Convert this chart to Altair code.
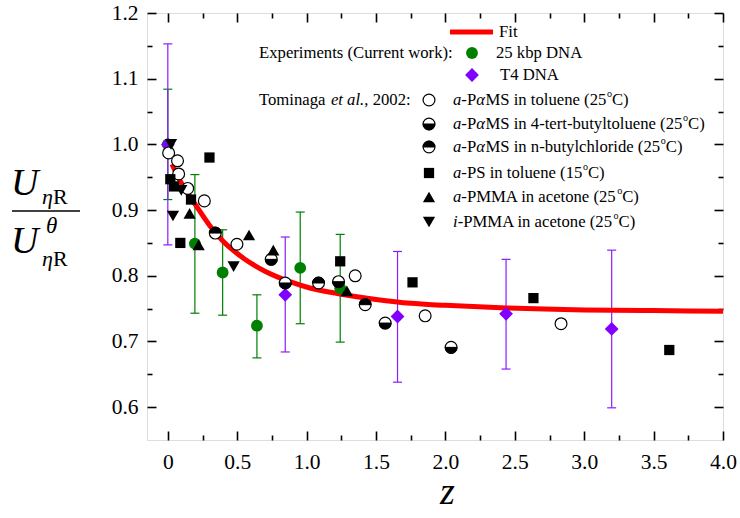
import altair as alt
import pandas as pd

# ------------------------------------------------------------------ data
dna25_z = [0.0, 0.195, 0.395, 0.642, 0.954, 1.242]
dna25_u = [1.0, 0.849, 0.805, 0.724, 0.812, 0.781]
dna25_lo = [0.916, 0.743, 0.740, 0.675, 0.727, 0.699]
dna25_hi = [1.084, 0.954, 0.870, 0.771, 0.897, 0.863]

t4_z = [0.0, 0.846, 1.655, 2.437, 3.198]
t4_u = [1.0, 0.771, 0.738, 0.742, 0.719]
t4_lo = [0.847, 0.684, 0.638, 0.658, 0.599]
t4_hi = [1.153, 0.859, 0.837, 0.825, 0.839]

pams_tol_z = [0.006, 0.07, 0.078, 0.143, 0.263, 0.498, 1.35, 1.854, 2.833]
pams_tol_u = [0.987, 0.975, 0.955, 0.933, 0.914, 0.848, 0.80, 0.739, 0.727]

pams_tbt_z = [0.745, 0.846, 1.23, 1.566, 2.041]
pams_tbt_u = [0.825, 0.789, 0.791, 0.728, 0.691]

pams_nbc_z = [0.342, 1.086, 1.422]
pams_nbc_u = [0.865, 0.789, 0.756]

ps_z = [0.018, 0.045, 0.09, 0.167, 0.30, 1.242, 1.763, 2.634, 3.613]
ps_u = [0.947, 0.936, 0.850, 0.916, 0.98, 0.822, 0.790, 0.766, 0.687]

apmma_z = [0.157, 0.222, 0.585, 0.76, 1.29]
apmma_u = [0.895, 0.847, 0.862, 0.839, 0.777]

ipmma_z = [0.023, 0.097, 0.037, 0.474]
ipmma_u = [1.0, 0.930, 0.891, 0.814]

fit_z = [0.03, 0.1, 0.2, 0.3, 0.4, 0.55, 0.7, 0.88, 1.03, 1.25, 1.5, 1.75, 2.0, 2.44, 3.0, 3.5, 4.0]
fit_u = [0.970, 0.940, 0.908, 0.877, 0.852, 0.826, 0.807, 0.791, 0.781, 0.772, 0.764, 0.758, 0.755, 0.751, 0.748, 0.747, 0.746]

x_major = [0, 0.5, 1.0, 1.5, 2.0, 2.5, 3.0, 3.5, 4.0]
x_minor = [0.25, 0.75, 1.25, 1.75, 2.25, 2.75, 3.25, 3.75]
y_major = [0.6, 0.7, 0.8, 0.9, 1.0, 1.1, 1.2]
y_minor = [0.65, 0.75, 0.85, 0.95, 1.05, 1.15]

# ------------------------------------------------------------------ style
SERIF = "Liberation Serif"
GREEN = "#008000"
PURPLE = "#7F00FF"
W, H = 576, 427
xs = alt.Scale(domain=[-0.15, 4.0], nice=False, zero=False)
ys = alt.Scale(domain=[0.55, 1.2], nice=False, zero=False)

LOWER_HALF = "M -1 0 A 1 1 0 0 0 1 0 Z"
UPPER_HALF = "M -1 0 A 1 1 0 0 1 1 0 Z"
CAP = "M -1 0 L 1 0"


def df(z, u, **extra):
    d = pd.DataFrame({"z": z, "u": u})
    for k, v in extra.items():
        d[k] = v
    return d


def enc_data():
    return dict(x=alt.X("z:Q", scale=xs, axis=None), y=alt.Y("u:Q", scale=ys, axis=None))


def enc_px():
    return dict(x=alt.X("px:Q", scale=None), y=alt.Y("py:Q", scale=None))


def markers(data, kind, enc):
    base = alt.Chart(data)
    if kind == "green":
        return [base.mark_point(shape="circle", filled=True, size=140, color=GREEN, opacity=1).encode(**enc)]
    if kind == "purple":
        return [base.mark_point(shape="diamond", filled=True, size=190, color=PURPLE, opacity=1).encode(**enc)]
    if kind == "open":
        return [base.mark_point(shape="circle", filled=True, size=140, fill="white", stroke="black",
                                strokeWidth=1.2, opacity=1).encode(**enc)]
    if kind in ("tbt", "nbc"):
        half = LOWER_HALF if kind == "tbt" else UPPER_HALF
        return [
            base.mark_point(shape="circle", filled=True, size=140, fill="white", stroke="black",
                            strokeWidth=1.2, opacity=1).encode(**enc),
            base.mark_point(shape=half, filled=True, size=140, fill="black", stroke="black",
                            strokeWidth=1.0, opacity=1).encode(**enc),
        ]
    if kind == "square":
        return [base.mark_point(shape="square", filled=True, size=105, color="black", opacity=1).encode(**enc)]
    if kind == "up":
        return [base.mark_point(shape="triangle-up", filled=True, size=150, color="black", opacity=1).encode(**enc)]
    if kind == "down":
        return [base.mark_point(shape="triangle-down", filled=True, size=150, color="black", opacity=1).encode(**enc)]
    raise ValueError(kind)


def errorbars(z, u, lo, hi, color):
    d = pd.DataFrame({"z": z, "u": u, "lo": lo, "hi": hi})
    x = alt.X("z:Q", scale=xs, axis=None)
    rule = alt.Chart(d).mark_rule(color=color, strokeWidth=1.2).encode(
        x=x, y=alt.Y("lo:Q", scale=ys, axis=None), y2="hi:Q")
    cap_lo = alt.Chart(d).mark_point(shape=CAP, filled=False, size=81, color=color, strokeWidth=1.2,
                                     opacity=1).encode(x=x, y=alt.Y("lo:Q", scale=ys, axis=None))
    cap_hi = alt.Chart(d).mark_point(shape=CAP, filled=False, size=81, color=color, strokeWidth=1.2,
                                     opacity=1).encode(x=x, y=alt.Y("hi:Q", scale=ys, axis=None))
    return [rule, cap_lo, cap_hi]


# ------------------------------------------------------------------ rich text helpers (Times metrics)
REG_W = {' ': 250, '(': 333, ')': 333, ',': 250, '-': 333, '.': 250, ':': 278,
         'A': 722, 'C': 667, 'D': 722, 'E': 611, 'M': 889, 'N': 722, 'P': 556, 'R': 667, 'S': 556,
         'T': 611, 'a': 444, 'b': 500, 'c': 444, 'd': 500, 'e': 444, 'g': 500, 'h': 500, 'i': 278,
         'k': 500, 'l': 278, 'm': 778, 'n': 500, 'o': 500, 'p': 500, 'r': 333, 's': 389, 't': 278,
         'u': 500, 'w': 722, 'x': 500, 'y': 500, 'z': 444, 'α': 550, 'η': 500, 'θ': 500}
ITA_W = {'a': 500, 'e': 444, 't': 278, 'l': 278, 'i': 278, ' ': 250, '.': 250, 'α': 550,
         'η': 500, 'U': 722, 'θ': 500, 'z': 389}


def text_width(s, style, size):
    table = ITA_W if style == "it" else REG_W
    return sum(table.get(c, 500) for c in s) / 1000.0 * size


def rich(pieces, x0, y, size):
    rows = []
    x = x0
    for txt, style in pieces:
        if style == "sup":
            s = size * 0.6
            rows.append(dict(px=x + 0.5, py=y - size * 0.33, text=txt, size=s, style="reg"))
            x += text_width(txt, "reg", s) + 0.5
        else:
            rows.append(dict(px=x, py=y, text=txt, size=size, style=style))
            x += text_width(txt, style, size)
    return rows


LS = 16.7
legend_rows = []
legend_rows += rich([("Fit", "reg")], 352, 19, LS)
legend_rows += rich([("Experiments (Current work):", "reg")], 112, 40, LS)
legend_rows += rich([("25 kbp DNA", "reg")], 349, 40, LS)
legend_rows += rich([("T4 DNA", "reg")], 353, 62, LS)
legend_rows += rich([("Tominaga ", "reg"), ("et al.", "it"), (", 2002:", "reg")], 112, 87, LS)
series_labels = [
    [("a", "it"), ("-P", "reg"), ("α", "it"), ("MS in toluene (25", "reg"), ("o", "sup"), ("C)", "reg")],
    [("a", "it"), ("-P", "reg"), ("α", "it"), ("MS in 4-tert-butyltoluene (25", "reg"), ("o", "sup"), ("C)", "reg")],
    [("a", "it"), ("-P", "reg"), ("α", "it"), ("MS in n-butylchloride (25", "reg"), ("o", "sup"), ("C)", "reg")],
    [("a", "it"), ("-PS in toluene (15", "reg"), ("o", "sup"), ("C)", "reg")],
    [("a", "it"), ("-PMMA in acetone (25", "reg"), ("o", "sup"), ("C)", "reg")],
    [("i", "it"), ("-PMMA in acetone (25", "reg"), ("o", "sup"), ("C)", "reg")],
]
series_kinds = ["open", "tbt", "nbc", "square", "up", "down"]
series_y = [87, 111, 134, 160, 184, 209]
for lab, yy in zip(series_labels, series_y):
    legend_rows += rich(lab, 306, yy, LS)

# y-axis title (fraction) and x-axis title
title_rows = []
title_rows += rich([("U", "it")], -136, 171, 38)
title_rows += rich([("η", "it"), ("R", "reg")], -105, 184, 22)
title_rows += rich([("U", "it")], -136, 229, 38)
title_rows += rich([("θ", "it")], -101, 213, 23)
title_rows += rich([("η", "it"), ("R", "reg")], -105, 246, 22)
title_rows += rich([("z", "it")], 293, 480, 38)

txt_df = pd.DataFrame(legend_rows + title_rows)


def text_layer(style):
    return alt.Chart(txt_df).transform_filter(alt.datum.style == style).mark_text(
        align="left", baseline="middle", font=SERIF, color="black",
        fontStyle="italic" if style == "it" else "normal").encode(
        text="text:N", size=alt.Size("size:Q", scale=None), **enc_px())


# ------------------------------------------------------------------ axes (inward ticks via negative offsets)
dummy = pd.DataFrame({"z": fit_z, "u": fit_u})


def axis_layer(xorient, yorient, xvals, yvals, tick, labels):
    xa = dict(orient=xorient, values=xvals, tickSize=tick, offset=-tick, domain=False, grid=False,
              title=None, tickColor="black", tickWidth=1.6, labels=labels)
    ya = dict(orient=yorient, values=yvals, tickSize=tick, offset=-tick, domain=False, grid=False,
              title=None, tickColor="black", tickWidth=1.6, labels=labels)
    if labels:
        lab = dict(labelFont=SERIF, labelFontSize=21.5, labelColor="black", labelFlush=False,
                   labelOverlap=False, labelBound=False)
        xa.update(lab, labelPadding=11,
                  labelExpr="datum.value == 0 ? '0' : format(datum.value, '.1f')")
        ya.update(lab, labelPadding=9, format=".1f")
    return alt.Chart(dummy).mark_point(opacity=0).encode(
        x=alt.X("z:Q", scale=xs, axis=alt.Axis(**xa)),
        y=alt.Y("u:Q", scale=ys, axis=alt.Axis(**ya)))


layers = [
    axis_layer("bottom", "left", x_major, y_major, 9, True),
    axis_layer("bottom", "left", x_minor, y_minor, 5, False),
    axis_layer("top", "right", x_major, y_major, 9, False),
    axis_layer("top", "right", x_minor, y_minor, 5, False),
]

# error bars
layers += errorbars(dna25_z, dna25_u, dna25_lo, dna25_hi, GREEN)
layers += errorbars(t4_z, t4_u, t4_lo, t4_hi, "#8B1CFF")

# fit line
layers.append(alt.Chart(pd.DataFrame({"z": fit_z, "u": fit_u})).mark_line(
    color="#FF0000", strokeWidth=5, interpolate="monotone").encode(**enc_data()))

# data markers
layers += markers(df(dna25_z, dna25_u), "green", enc_data())
layers += markers(df(t4_z, t4_u), "purple", enc_data())
layers += markers(df(pams_tol_z, pams_tol_u), "open", enc_data())
layers += markers(df(pams_tbt_z, pams_tbt_u), "tbt", enc_data())
layers += markers(df(pams_nbc_z, pams_nbc_u), "nbc", enc_data())
layers += markers(df(ps_z, ps_u), "square", enc_data())
layers += markers(df(apmma_z, apmma_u), "up", enc_data())
layers += markers(df(ipmma_z, ipmma_u), "down", enc_data())

# legend
layers.append(alt.Chart(pd.DataFrame({"px": [303], "px2": [346], "py": [19]})).mark_rule(
    color="#FF0000", strokeWidth=5).encode(x=alt.X("px:Q", scale=None), x2="px2:Q",
                                          y=alt.Y("py:Q", scale=None)))
layers += markers(pd.DataFrame({"px": [325], "py": [40]}), "green", enc_px())
layers += markers(pd.DataFrame({"px": [325], "py": [62]}), "purple", enc_px())
for kind, yy in zip(series_kinds, series_y):
    layers += markers(pd.DataFrame({"px": [282], "py": [yy]}), kind, enc_px())

# fraction bar of y title
layers.append(alt.Chart(pd.DataFrame({"px": [-135], "px2": [-67], "py": [198]})).mark_rule(
    color="black", strokeWidth=1.4).encode(x=alt.X("px:Q", scale=None), x2="px2:Q",
                                          y=alt.Y("py:Q", scale=None)))

layers.append(text_layer("reg"))
layers.append(text_layer("it"))

chart = alt.layer(*layers).resolve_axis(x="independent", y="independent").properties(
    width=W, height=H, autosize="none",
    padding={"left": 147, "top": 13, "right": 17, "bottom": 78},
).configure_view(stroke="black", strokeWidth=2).configure(background="white")

chart.save("out.html", embed_options={"renderer": "svg", "actions": False})
